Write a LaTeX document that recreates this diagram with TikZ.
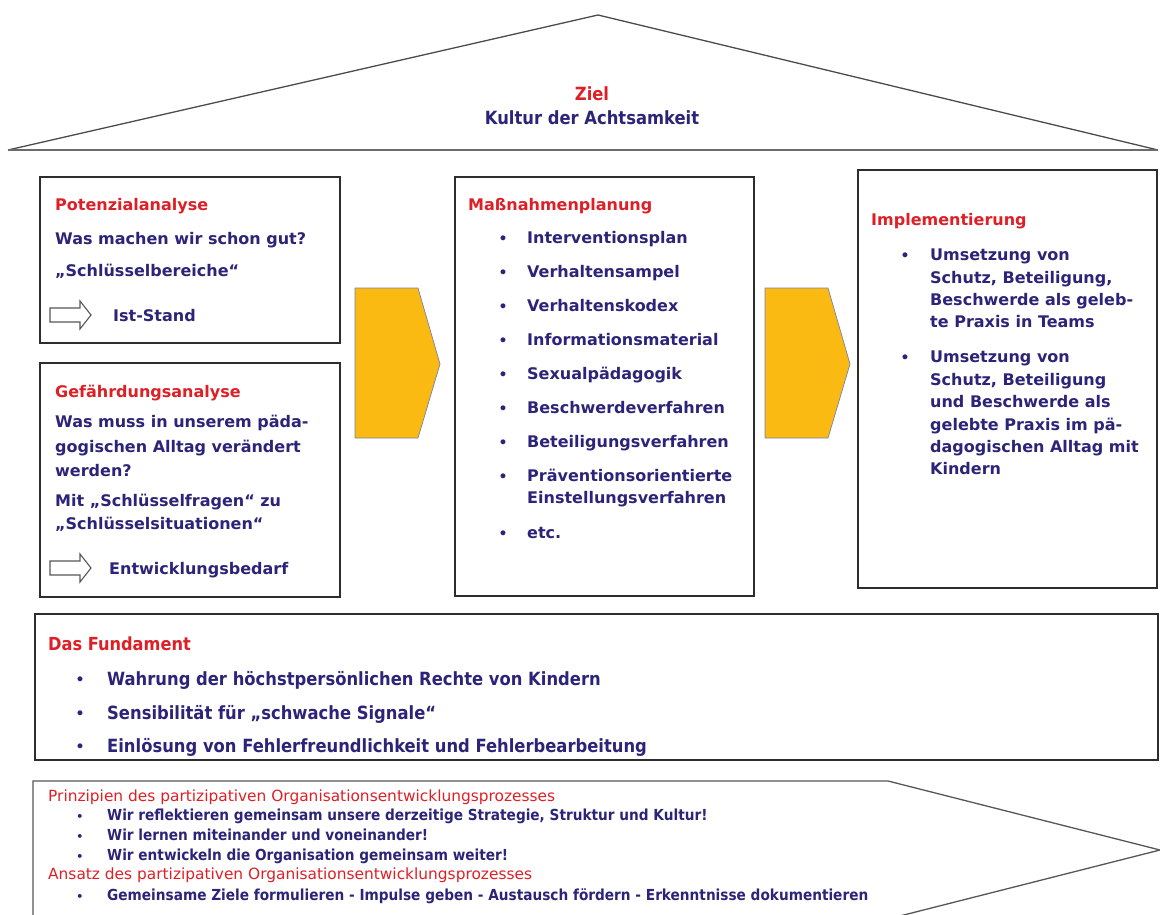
\documentclass[tikz,border=0pt]{standalone}
\usepackage{fontspec}
\setmainfont{DejaVu Sans}
\newfontfamily\cond{DejaVu Sans Condensed}
\definecolor{zred}{RGB}{222,32,38}
\definecolor{znavy}{RGB}{44,36,120}
\definecolor{zyellow}{RGB}{250,186,18}
\definecolor{zarrline}{RGB}{120,128,175}
\definecolor{zline}{RGB}{45,45,45}
\tikzset{
  frame/.style={draw=zline, line width=1.7pt},
  roofline/.style={draw=zline!85, line width=1.3pt, line join=miter},
  yarrow/.style={fill=zyellow, draw=zarrline, line width=0.7pt},
  oarrow/.style={fill=white, draw=zline!80, line width=1.1pt, line join=miter},
  txt/.style={anchor=west, inner sep=0pt, text height=0.73em, text depth=0pt, yshift=-3pt},
  head/.style={txt, text=zred, font=\bfseries\fontsize{16}{18}\selectfont},
  body/.style={txt, text=znavy, font=\bfseries\fontsize{16}{18}\selectfont},
  bul/.style={anchor=center, inner sep=0pt, yshift=-3pt, text=znavy, font=\bfseries\fontsize{14}{16}\selectfont},
  fhead/.style={txt, yshift=-1pt, text=zred, font=\cond\bfseries\fontsize{18}{20}\selectfont},
  fbody/.style={txt, yshift=-1pt, text=znavy, font=\cond\bfseries\fontsize{18.2}{20}\selectfont},
  shead/.style={txt, yshift=2pt, text=zred, font=\fontsize{15.4}{16}\selectfont},
  sbody/.style={txt, yshift=2pt, text=znavy, font=\cond\bfseries\fontsize{15.2}{16}\selectfont},
  sbul/.style={bul, yshift=2pt, font=\bfseries\fontsize{11}{13}\selectfont},
  rtxt/.style={anchor=center, inner sep=0pt, text height=0.73em, text depth=0pt, yshift=-4pt, font=\cond\bfseries\fontsize{18.2}{20}\selectfont},
}
\begin{document}
\begin{tikzpicture}[x=1pt,y=-1pt]
\useasboundingbox (0,0) rectangle (1160,915);
\fill[white] (0,0) rectangle (1160,915);

% roof
\draw[roofline] (8,150) -- (598,15) -- (1158,150);
\draw[draw=zline!70, line width=2.4pt] (8,150) -- (1158,150);
\node[rtxt, text=zred] (ziel) at (592,93) {Ziel};
\node[rtxt, text=znavy] (kultur) at (592,117) {Kultur der Achtsamkeit};

% boxes
\draw[frame] (40,177) rectangle (340,343);
\draw[frame] (40,363) rectangle (340,597);
\draw[frame] (455,177) rectangle (754,596);
\draw[frame] (858,170) rectangle (1157,588);
\draw[frame] (35,614) rectangle (1158,760);

% yellow arrows
\draw[yarrow] (355,288) -- (418,288) -- (440,364) -- (418,438) -- (355,438) -- cycle;
\draw[yarrow] (765,288) -- (828,288) -- (850,364) -- (828,438) -- (765,438) -- cycle;

% Potenzialanalyse
\node[head] (pa) at (55,204) {Potenzialanalyse};
\node[body] (pa1) at (55,238) {Was machen wir schon gut?};
\node[body] (pa2) at (55,270) {„Schlüsselbereiche“};
\draw[oarrow] (50,308) -- (80,308) -- (80,301) -- (91,315) -- (80,329) -- (80,322) -- (50,322) -- cycle;
\node[body] (pa3) at (113,315) {Ist-Stand};

% Gefaehrdungsanalyse
\node[head] (ga) at (55,391) {Gefährdungsanalyse};
\node[body] (ga1) at (55,421) {Was muss in unserem päda-};
\node[body] (ga2) at (55,446) {gogischen Alltag verändert};
\node[body] (ga3) at (55,470) {werden?};
\node[body] (ga4) at (55,500) {Mit „Schlüsselfragen“ zu};
\node[body] (ga5) at (55,523) {„Schlüsselsituationen“};
\draw[oarrow] (50,561) -- (80,561) -- (80,554) -- (91,568) -- (80,582) -- (80,575) -- (50,575) -- cycle;
\node[body] (ga6) at (109,568) {Entwicklungsbedarf};

% Massnahmenplanung
\node[head] (mp) at (468,204) {Maßnahmenplanung};
\foreach \y/\t [count=\i] in {237/Interventionsplan, 271/Verhaltensampel, 305/Verhaltenskodex, 339/Informationsmaterial, 373/Sexualpädagogik, 407/Beschwerdeverfahren, 441/Beteiligungsverfahren, 475/Präventionsorientierte, 532/etc.}{
  \node[body] (mpt\i) at (527,\y) {\t};
}
\node[body] (mpt10) at (527,497) {Einstellungsverfahren};
\foreach \y [count=\i] in {237,271,305,339,373,407,441,475,532}{
  \node[bul] (mpb\i) at (503,\y) {•};
}

% Implementierung
\node[head] (im) at (871,219) {Implementierung};
\node[bul] (imb1) at (905,254) {•};
\node[bul] (imb2) at (905,356) {•};
\foreach \y/\t [count=\i] in {254/Umsetzung von, 277/{Schutz, Beteiligung,}, 299/Beschwerde als geleb-, 321/te Praxis in Teams, 356/Umsetzung von, 379/{Schutz, Beteiligung}, 401/und Beschwerde als, 424/gelebte Praxis im pä-, 446/dagogischen Alltag mit, 468/Kindern}{
  \node[body] (imt\i) at (930,\y) {\t};
}

% Fundament
\node[fhead] (fu) at (48,643) {Das Fundament};
\foreach \y/\t [count=\i] in {678/Wahrung der höchstpersönlichen Rechte von Kindern, 712/Sensibilität für „schwache Signale“, 745/Einlösung von Fehlerfreundlichkeit und Fehlerbearbeitung}{
  \node[bul] (fub\i) at (80,\y) {•};
  \node[fbody] (fut\i) at (107,\y) {\t};
}

% bottom arrow
\draw[draw=zline!80, line width=1.3pt, line join=miter] (33,919) -- (33,781) -- (888,781) -- (1160,850) -- (888,919);
\node[shead] (pr) at (48,797) {Prinzipien des partizipativen Organisationsentwicklungsprozesses};
\foreach \y/\t [count=\i] in {816/{Wir reflektieren gemeinsam unsere derzeitige Strategie, Struktur und Kultur!}, 836/Wir lernen miteinander und voneinander!, 856/Wir entwickeln die Organisation gemeinsam weiter!}{
  \node[sbul] (prb\i) at (80,\y) {•};
  \node[sbody] (prt\i) at (107,\y) {\t};
}
\node[shead] (an) at (48,875) {Ansatz des partizipativen Organisationsentwicklungsprozesses};
\node[sbul] (anb) at (80,896) {•};
\node[sbody] (ant) at (107,896) {Gemeinsame Ziele formulieren - Impulse geben - Austausch fördern - Erkenntnisse dokumentieren};
\end{tikzpicture}
\end{document}
